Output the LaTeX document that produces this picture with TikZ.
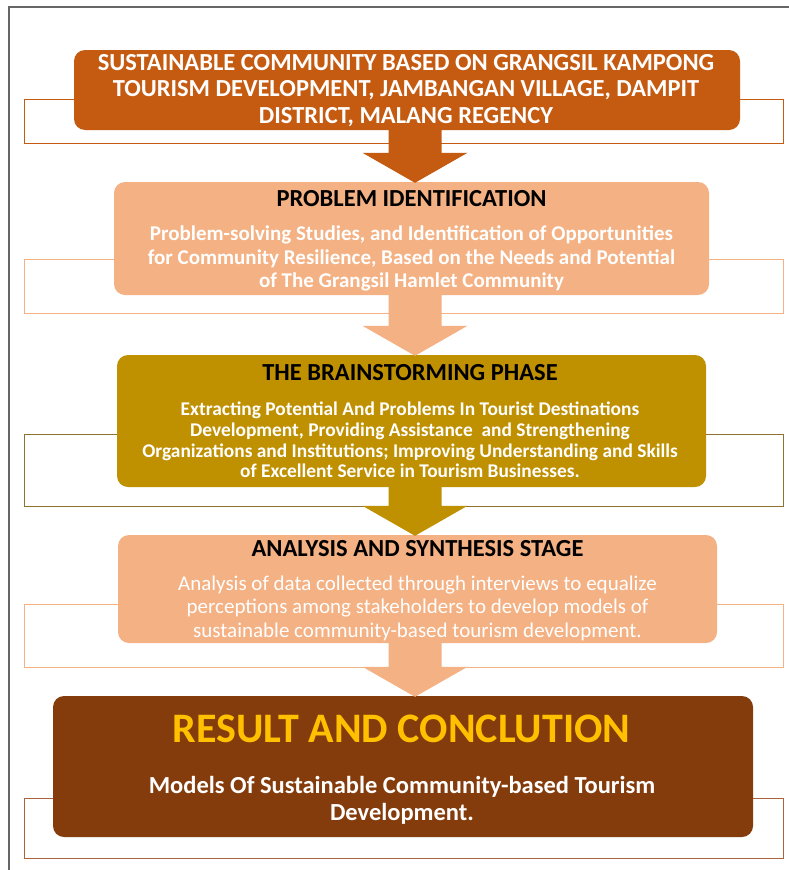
\documentclass[tikz,border=0pt]{standalone}
\usepackage{fontspec}
\setmainfont{Carlito}
\usepackage{tikz}
\usetikzlibrary{arrows.meta,calc,positioning}
\definecolor{rustorange}{HTML}{C55A11}
\definecolor{peach}{HTML}{F4B183}
\definecolor{darkgold}{HTML}{BF9000}
\definecolor{outlinegold}{HTML}{8C7330}
\definecolor{brownbox}{HTML}{843C0C}
\definecolor{outlinebrown}{HTML}{A8643C}
\definecolor{titlegold}{HTML}{FFC000}
\definecolor{framegray}{HTML}{666666}

\tikzset{
  stagebox/.style={rounded corners=11pt, inner sep=0pt},
  backrect/.style={draw=#1, line width=0.9pt, fill=white},
  stagetext/.style={align=center, inner sep=0pt},
}

% block arrow from the bottom of #1 down to the top of #2
\newcommand{\stagearrow}[3]{%
  \fill[#3] let \p1=(#1.south -| arrowaxis), \p2=(#2.north -| arrowaxis) in
    (\x1-26.5pt,\y1+1pt) -- (\x1+26.5pt,\y1+1pt) -- (\x1+26.5pt,\y2+29pt)
    -- (\x1+52.5pt,\y2+29pt) -- (\x1,\y2-1pt) -- (\x1-52.5pt,\y2+29pt)
    -- (\x1-26.5pt,\y2+29pt) -- cycle;
}

\begin{document}
\begin{tikzpicture}[x=1pt,y=-1pt]
% =============================================
\useasboundingbox (0,0) rectangle (789,870);
\draw[framegray, line width=1.6pt] (9,870) -- (9,7) -- (789,7);
\coordinate (arrowaxis) at (415,0);
%
% - frames behind the stages.
\path[backrect=rustorange] (24,99) rectangle (783,143);
\path[backrect=peach] (24,259) rectangle (783,313);
\path[backrect=outlinegold] (24,434) rectangle (783,506);
\path[backrect=peach] (24,604) rectangle (783,667);
\path[backrect=outlinebrown] (24,798) rectangle (783,858);
%
% - stages.
\node[stagebox, fill=rustorange, minimum width=666pt, minimum height=80pt] (goal) at (407,90) {};
\node[stagebox, fill=peach, minimum width=595pt, minimum height=113pt] (ident) at (411.5,238.5) {};
\node[stagebox, fill=darkgold, minimum width=589pt, minimum height=132pt] (brain) at (411.5,421) {};
\node[stagebox, fill=peach, minimum width=599pt, minimum height=108pt] (synth) at (417.5,589) {};
\node[stagebox, fill=brownbox, minimum width=700pt, minimum height=141pt] (result) at (403,766.5) {};
%
% - texts.
\node[stagetext, text=white, font=\fontsize{24.5}{26.5}\selectfont\bfseries] (goaltxt) at (406,90.5)
  {SUSTAINABLE COMMUNITY BASED ON GRANGSIL KAMPONG\\
   TOURISM DEVELOPMENT, JAMBANGAN VILLAGE, DAMPIT\\
   DISTRICT, MALANG REGENCY};
\node[stagetext, font=\fontsize{24.5}{26}\selectfont\bfseries] (identtitle) at (411.5,199) {PROBLEM IDENTIFICATION};
\node[stagetext, text=white, font=\fontsize{21}{23.5}\selectfont\bfseries] (identtxt) at (411.5,258.5)
  {Problem-solving Studies, and Identification of Opportunities\\
   for Community Resilience, Based on the Needs and Potential\\
   of The Grangsil Hamlet Community};
\node[stagetext, font=\fontsize{24.5}{26}\selectfont\bfseries] (braintitle) at (410,373) {THE BRAINSTORMING PHASE};
\node[stagetext, text=white, font=\fontsize{19.4}{20.7}\selectfont\bfseries] (braintxt) at (410,440)
  {Extracting Potential And Problems In Tourist Destinations\\
   Development, Providing Assistance\ \ and Strengthening\\
   Organizations and Institutions; Improving Understanding and Skills\\
   of Excellent Service in Tourism Businesses.};
\node[stagetext, font=\fontsize{24.5}{26}\selectfont\bfseries] (synthtitle) at (417.5,549) {ANALYSIS AND SYNTHESIS STAGE};
\node[stagetext, text=white, font=\fontsize{21}{23.5}\selectfont] (synthtxt) at (417.5,608)
  {Analysis of data collected through interviews to equalize\\
   perceptions among stakeholders to develop models of\\
   sustainable community-based tourism development.};
\node[stagetext, text=titlegold, font=\fontsize{42}{46}\selectfont\bfseries] (resulttitle) at (401.5,729) {RESULT AND CONCLUTION};
\node[stagetext, text=white, font=\fontsize{24.5}{27}\selectfont\bfseries] (resulttxt) at (402,800.5)
  {Models Of Sustainable Community-based Tourism\\
   Development.};
%
% - arrows between the stages.
\stagearrow{goal}{ident}{rustorange}
\stagearrow{ident}{brain}{peach}
\stagearrow{brain}{synth}{darkgold}
\stagearrow{synth}{result}{peach}
% =============================================
\end{tikzpicture}
\end{document}
